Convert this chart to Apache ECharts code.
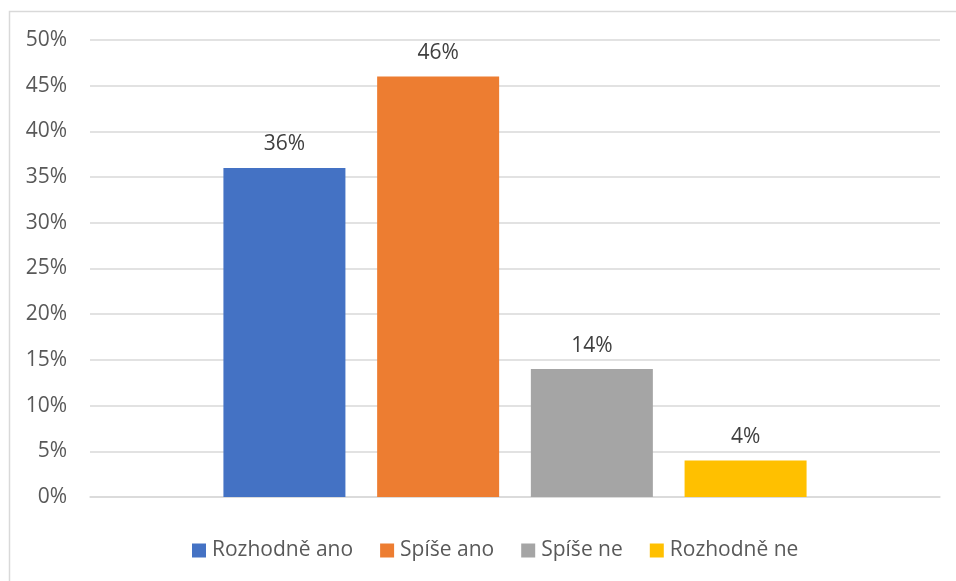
<!DOCTYPE html>
<html><head><meta charset="utf-8">
<script src="https://cdn.jsdelivr.net/npm/echarts@6/dist/echarts.min.js"></script>
<style>html,body{margin:0;padding:0;background:#fff}#c{width:956px;height:581px}</style>
</head><body><div id="c"></div>
<script>
const categories = [''];
const seriesNames = ['Rozhodně ano', 'Spíše ano', 'Spíše ne', 'Rozhodně ne'];
const seriesValues = [36, 46, 14, 4];
const seriesColors = ['#4472C4', '#ED7D31', '#A5A5A5', '#FFC000'];
const yTicks = { min: 0, max: 50, interval: 5 };

const font = '"Open Sans", "Noto Sans", sans-serif';
const chart = echarts.init(document.getElementById('c'), null, {renderer: 'canvas'});
chart.setOption({
  animation: false,
  textStyle: { fontFamily: font },
  graphic: [{ type: 'rect', shape: { x: 9.5, y: 11.5, width: 1000, height: 600 }, style: { fill: 'none', stroke: '#D9D9D9', lineWidth: 1.5 }, silent: true }],
  grid: { left: 90, right: 16, top: 40, bottom: 84 },
  legend: {
    top: 535, left: 187, itemWidth: 14, itemHeight: 14, itemGap: 27,
    icon: 'rect',
    textStyle: { fontSize: 21, color: '#595959', fontFamily: font, padding: [0, 0, 0, 1] }
  },
  xAxis: {
    type: 'category', data: categories,
    axisLine: { lineStyle: { color: '#D9D9D9', width: 1.5 } },
    axisTick: { show: false }, axisLabel: { show: false }
  },
  yAxis: {
    type: 'value', min: yTicks.min, max: yTicks.max, interval: yTicks.interval,
    axisLine: { show: false }, axisTick: { show: false },
    splitLine: { lineStyle: { color: '#D9D9D9', width: 1.5 } },
    axisLabel: { formatter: '{value}%', fontSize: 21, color: '#595959', margin: 23, fontFamily: font }
  },
  series: seriesNames.map((n, i) => ({
    name: n, type: 'bar', data: [seriesValues[i]],
    itemStyle: { color: seriesColors[i] },
    barWidth: 122, barGap: '26%',
    label: { show: true, position: 'top', distance: 13, formatter: '{c}%', fontSize: 21, color: '#404040', fontFamily: font }
  }))
});
</script></body></html>
